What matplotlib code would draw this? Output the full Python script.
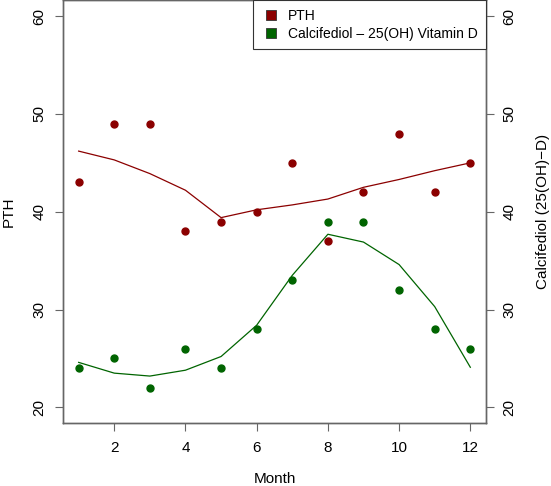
import matplotlib.pyplot as plt
from matplotlib.lines import Line2D

plt.rcParams['font.family'] = ['Liberation Sans', 'DejaVu Sans']

months = [1, 2, 3, 4, 5, 6, 7, 8, 9, 10, 11, 12]
pth_points = [43, 49, 49, 38, 39, 40, 45, 37, 42, 48, 42, 45]
pth_smooth = [46.2, 45.3, 43.9, 42.2, 39.4, 40.2, 40.7, 41.3, 42.5, 43.3, 44.2, 45.0]
vitd_points = [24, 25, 22, 26, 24, 28, 33, 39, 39, 32, 28, 26]
vitd_smooth = [24.6, 23.5, 23.2, 23.8, 25.2, 28.4, 33.5, 37.7, 36.9, 34.6, 30.3, 24.1]

x_ticks = [2, 4, 6, 8, 10, 12]
y_ticks = [20, 30, 40, 50, 60]

red = '#8b0000'
green = '#006400'
axis_grey = '#666666'

fig = plt.figure(figsize=(5.51, 4.86), dpi=100)
ax = fig.add_axes([0.1143, 0.1296, 0.7677, 0.8694])
ax2 = ax.twinx()

ax.plot(months, pth_smooth, color=red, lw=0.9)
ax.plot(months, pth_points, 'o', color=red, ms=5, mec=red)
ax2.plot(months, vitd_smooth, color=green, lw=0.9)
ax2.plot(months, vitd_points, 'o', color=green, ms=5, mec=green)

for a in (ax, ax2):
    a.set_xlim(0.56, 12.44)
    a.set_ylim(18.4, 61.6)
    a.set_yticks(y_ticks)
    for s in a.spines.values():
        s.set_color(axis_grey)
        s.set_linewidth(1.0)
    a.tick_params(axis='both', colors=axis_grey, labelcolor='black',
                  length=6, width=0.8, labelsize=11)
    for lbl in a.get_yticklabels():
        lbl.set_rotation(90)
        lbl.set_va('center')

ax.set_xticks(x_ticks)
ax.tick_params(axis='x', pad=7)
ax.tick_params(axis='y', pad=6)
ax2.tick_params(axis='y', pad=6)

ax.set_xlabel('Month', fontsize=11, labelpad=12)
ax.set_ylabel('PTH', fontsize=11, labelpad=12)
ax2.set_ylabel('Calcifediol (25(OH)\u2212D)', fontsize=11, labelpad=14)

handles = [
    Line2D([], [], ls='none', marker='s', ms=7, mfc=red, mec='#333333', mew=0.6),
    Line2D([], [], ls='none', marker='s', ms=7, mfc=green, mec='#333333', mew=0.6),
]
leg = ax2.legend(handles, ['PTH', 'Calcifediol \u2013 25(OH) Vitamin D'],
                 loc='upper right', borderaxespad=0, fontsize=10,
                 fancybox=False, framealpha=1, handlelength=1.4,
                 handletextpad=0.5, borderpad=0.6, labelspacing=0.3)
leg.get_frame().set_edgecolor('#333333')
leg.get_frame().set_linewidth(0.8)

fig.savefig('out.png', dpi=100)
